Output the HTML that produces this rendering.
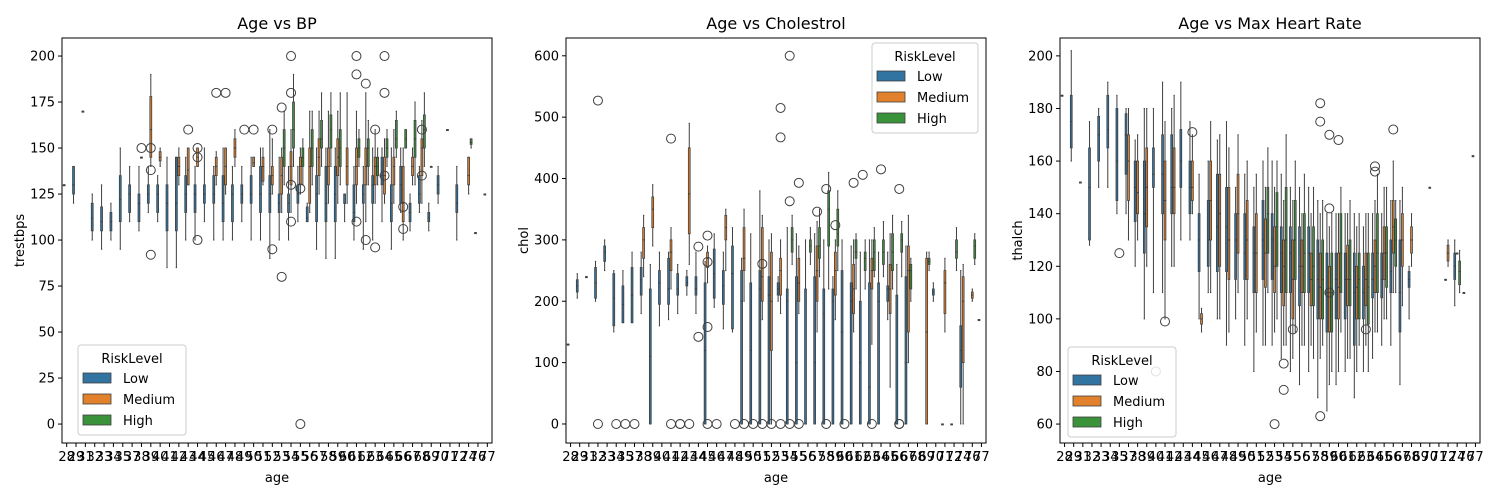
<!DOCTYPE html>
<html><head><meta charset="utf-8"><style>
body{margin:0;background:#fff;width:1500px;height:500px;overflow:hidden;font-family:"DejaVu Sans","Liberation Sans",sans-serif}
svg text{font-family:"DejaVu Sans","Liberation Sans",sans-serif}
</style></head><body>
<svg id="fig" width="1500" height="500" xmlns="http://www.w3.org/2000/svg"></svg>
<script>
const ages=[28,29,31,32,33,34,35,37,38,39,40,41,42,43,44,45,46,47,48,49,50,51,52,53,54,55,56,57,58,59,60,61,62,63,64,65,66,67,68,69,70,71,72,74,76,77];
const hueNames=["Low","Medium","High"];
const hueColors=["#3274a1","#e1812c","#3a923a"];
const N=null;
const bpLow=[[130,130,130,130,130],[120,125,130,140,140],[170,170,170,170,170],[100,105,112,120,125],[95,105,110,118,130],[100,105,110,115,120],[95,110,122,135,150],[110,115,125,130,140],[105,110,120,125,140],[115,120,125,130,140],[110,115,125,130,135],[85,105,120,130,145],[85,105,120,145,145],[100,115,125,135,145],[100,115,125,130,140],[110,120,125,130,150],[100,120,125,135,140],[100,110,120,135,150],[100,110,125,130,140],[110,120,125,130,140],[100,120,125,135,145],[100,115,125,140,150],[90,115,125,135,160],[100,115,120,125,145],[100,115,120,125,140],[110,120,125,130,140],[110,110,112,118,120],[95,110,125,135,150],[90,110,120,140,150],[90,110,125,140,150],[110,120,120,125,125],[100,110,115,130,140],[95,120,125,130,140],[100,120,130,135,150],[110,130,135,145,150],[95,110,120,130,150],[115,120,130,140,150],[105,110,115,120,125],[115,120,125,135,140],[105,110,112,115,120],[120,125,130,135,140],[160,160,160,160,160],[100,115,120,130,140],N,[104,104,104,104,104],[125,125,125,125,125]];
const bpMed=[N,N,N,N,N,N,N,N,[145,145,145,145,145],[140,145,160,178,190],[140,143,145,148,150],N,[130,135,140,145,150],[130,130,138,150,150],[140,140,145,150,150],N,[130,135,140,145,148],[125,130,140,150,150],[140,145,150,155,160],N,[140,140,142,145,145],[130,132,140,145,150],[125,130,135,140,155],[115,125,135,145,150],[115,130,140,148,160],[125,130,140,145,150],[115,120,140,150,170],[125,135,145,155,170],[120,130,140,150,170],[120,135,145,155,170],[120,130,140,150,180],[120,130,140,150,170],[110,130,140,150,180],[120,130,140,145,160],[120,125,135,145,155],[120,130,140,145,160],[100,110,120,140,150],[130,135,140,145,150],[120,135,150,155,165],[140,140,140,140,140],N,N,N,[125,130,135,145,145],N,N];
const bpHigh=[N,N,N,N,N,N,N,N,N,N,N,N,N,N,N,N,N,N,N,N,N,N,N,[130,140,150,160,170],[140,150,160,175,190],[130,140,145,150,155],[130,140,150,160,170],[140,150,155,165,180],[140,150,160,168,180],[130,140,150,160,180],N,[140,145,150,155,160],[130,140,150,155,165],[130,135,140,145,150],[140,145,150,155,160],[145,150,155,165,170],[150,150,155,160,160],[130,145,155,165,175],[140,150,160,168,180],N,N,N,N,[150,152,153,155,155],N,N];
const bpOutAge=[38,39,39,39,43,44,44,44,46,47,49,50,52,52,53,53,54,54,54,54,55,55,61,61,61,62,62,63,63,64,64,64,66,66,68,68];
const bpOutVal=[150,92,138,150,160,100,145,150,180,180,160,160,160,95,172,80,180,130,110,200,0,128,110,200,190,185,100,96,160,200,180,135,106,118,160,135];
const chLow=[[130,130,130,130,130],[205,215,225,235,245],[240,240,240,240,240],[200,205,230,255,265],[250,265,280,290,300],[150,160,205,245,250],[165,165,195,225,250],[165,165,210,255,280],[180,210,235,255,280],[0,0,110,220,260],[160,195,230,250,280],[170,195,220,270,280],[180,210,220,245,260],[210,225,230,240,250],[180,210,220,240,280],[0,0,120,230,265],[190,205,245,285,310],[155,195,225,250,280],[150,155,245,290,320],[0,0,200,250,270],[0,0,120,230,310],[0,0,220,250,380],[0,0,210,240,300],[200,210,220,230,240],[0,0,200,220,320],[0,0,100,240,310],[0,0,0,220,300],[0,0,100,240,310],[0,0,180,220,300],[0,0,200,220,240],[0,0,150,250,300],[0,0,200,230,290],[0,0,100,200,280],[0,0,60,230,300],[0,0,200,230,280],[170,200,220,225,280],[0,0,0,210,260],[0,0,100,240,290],N,N,[200,210,215,220,230],[0,0,0,0,0],[0,0,0,0,0],[0,60,120,160,250],N,[170,170,170,170,170]];
const chMed=[N,N,N,N,N,N,N,N,[240,270,300,320,340],[290,320,350,370,390],N,[220,250,280,300,320],N,[260,310,375,450,490],N,[230,255,270,280,290],N,[250,300,320,340,350],N,[200,250,270,320,350],N,[170,200,240,320,340],[0,120,200,280,310],[180,210,250,270,300],N,[180,200,230,270,290],N,[150,200,250,290,330],N,[170,210,250,280,300],N,[150,180,220,260,300],N,[130,220,250,270,300],N,[60,180,220,260,310],N,[100,150,250,290,340],N,[0,0,150,270,280],N,[150,180,230,250,270],N,[0,100,200,240,260],[200,205,210,215,220],N];
const chHigh=[N,N,N,N,N,N,N,N,N,N,N,N,N,N,N,N,N,N,N,N,N,N,N,N,[260,280,300,320,340],N,[260,280,290,300,320],[240,270,290,320,350],[220,290,350,380,410],[250,290,310,350,380],N,[220,270,280,300,310],[220,250,270,280,300],[240,250,280,300,320],[240,260,280,300,330],[220,250,280,310,340],[240,280,300,310,330],[200,220,250,260,270],N,[250,260,265,270,280],N,N,[250,270,280,300,320],N,[260,270,290,300,310],N];
const chOutAge=[32,34,35,37,41,42,42,43,45,46,48,49,50,51,52,53,54,55,58,60,63,66,66,32,41,44,45,45,45,44,51,54,53,53,55,54,58,57,59,61,62,64,66];
const chOutVal=[0,0,0,0,0,0,0,0,0,0,0,0,0,0,0,0,0,0,0,0,0,0,0,527,465,289,307,264,158,142,261,600,515,467,393,363,383,346,324,393,406,415,383];
const hrLow=[[185,185,185,185,185],[160,165,175,185,202],[152,152,152,152,152],[128,130,150,165,175],[150,160,170,177,180],[150,165,172,185,190],[140,145,160,180,185],[140,155,170,178,180],[120,137,150,160,168],[100,125,140,160,180],[110,150,155,165,180],[110,140,155,170,190],[120,140,150,170,180],[130,150,160,172,190],[130,140,150,160,175],[100,118,130,140,155],[110,120,130,145,160],[100,118,135,155,168],[90,118,135,150,175],[100,115,130,140,150],[90,115,125,140,155],[80,110,125,135,150],[90,115,130,145,160],[90,115,130,140,160],[85,110,125,135,155],[80,110,125,135,150],[75,105,120,135,150],[80,110,125,135,150],[70,100,115,130,145],[65,95,110,125,140],[75,100,115,125,140],[80,100,115,125,140],[70,90,110,125,140],[80,100,110,120,135],[85,108,115,125,140],[90,108,115,125,140],[90,110,118,130,145],[75,95,110,130,145],[100,112,115,118,120],N,N,N,[115,115,115,115,115],[105,115,120,125,130],[110,110,110,110,110],[162,162,162,162,162]];
const hrMed=[N,N,N,N,N,N,N,[130,145,160,170,180],[130,140,148,160,170],[120,135,150,165,180],N,[100,130,145,160,175],[120,140,150,165,185],N,[140,145,150,160,170],[95,98,100,102,104],[110,130,145,160,175],[100,120,140,155,170],[95,115,130,150,165],[110,125,140,155,170],[100,115,130,145,160],[95,110,125,140,155],[90,112,125,138,150],[95,110,120,135,150],[90,105,120,130,145],[85,100,115,130,145],[90,110,120,130,140],[90,105,115,125,140],[85,100,112,125,140],[75,95,110,120,135],[80,100,112,125,140],[85,105,115,128,140],[80,100,112,120,135],[90,105,115,125,140],[95,110,120,130,145],[100,115,125,135,150],[110,125,135,145,160],[105,120,130,140,150],[120,125,130,135,140],N,[150,150,150,150,150],N,[120,122,125,128,130],[125,125,125,125,125],N,N];
const hrHigh=[N,N,N,N,N,N,N,N,N,N,N,N,N,N,N,N,N,N,N,N,N,N,[110,125,140,150,165],[100,120,135,148,160],[90,110,130,150,170],[95,115,130,145,160],[90,110,125,140,155],[85,105,120,135,150],[90,100,115,130,145],[80,95,110,125,140],[95,110,125,140,150],[85,105,115,130,145],[90,100,115,125,140],[80,98,112,125,140],[95,110,125,140,155],[100,112,125,135,150],[110,120,130,138,145],N,N,N,N,N,N,[110,113,118,122,126],N,N];
const hrOutAge=[35,41,40,44,53,54,54,55,58,58,58,59,60,59,59,63,64,64,66];
const hrOutVal=[125,99,80,171,60,83,73,96,63,175,182,170,168,142,110,96,156,158,172];

const svg=document.getElementById('fig');
const NS='http://www.w3.org/2000/svg';
function mk(tag,attrs,parent,text){const e=document.createElementNS(NS,tag);for(const k in attrs)e.setAttribute(k,attrs[k]);if(text!==undefined)e.textContent=text;(parent||svg).appendChild(e);return e;}

function panel(cfg){
  const g=mk('g',{});
  
  
  const L=cfg.left,R=cfg.right,T=38,B=443;
  const step=(R-L)/ages.length;
  const xC=i=>L+step*(i+0.5);
  const y=v=>B-(v-cfg.ymin)/(cfg.ymax-cfg.ymin)*(B-T);
  const bw=0.8*step/3;
  const series=[cfg.low,cfg.med,cfg.high];
  series.forEach((arr,h)=>{
    arr.forEach((s,i)=>{
      if(!s)return;
      const cx=xC(i)+(h-1)*bw;
      const bx=mk('g',{},g);
      
      
      mk('line',{x1:cx,x2:cx,y1:y(s[0]),y2:y(s[1]),stroke:'#3f3f3f','stroke-width':1},bx);
      mk('line',{x1:cx,x2:cx,y1:y(s[3]),y2:y(s[4]),stroke:'#3f3f3f','stroke-width':1},bx);
      mk('line',{x1:cx-bw/4,x2:cx+bw/4,y1:y(s[0]),y2:y(s[0]),stroke:'#3f3f3f','stroke-width':1},bx);
      mk('line',{x1:cx-bw/4,x2:cx+bw/4,y1:y(s[4]),y2:y(s[4]),stroke:'#3f3f3f','stroke-width':1},bx);
      mk('rect',{x:cx-bw/2+0.3,y:y(s[3]),width:Math.max(bw-0.6,1),height:Math.max(y(s[1])-y(s[3]),1),fill:hueColors[h],stroke:'#3f3f3f','stroke-width':0.8},bx);
      mk('line',{x1:cx-bw/2,x2:cx+bw/2,y1:y(s[2]),y2:y(s[2]),stroke:'#3f3f3f','stroke-width':1},bx);
    });
  });
  cfg.outAge.forEach((a,k)=>{
    const i=ages.indexOf(a);
    const c=mk('circle',{cx:xC(i),cy:y(cfg.outVal[k]),r:4.5,fill:'none',stroke:'#3f3f3f','stroke-width':1},g);
    
    
  });
  mk('rect',{x:L,y:T,width:R-L,height:B-T,fill:'none',stroke:'#000','stroke-width':1},g);
  const xt=mk('g',{},g);
  
  
  ages.forEach((a,i)=>{
    mk('line',{x1:xC(i),x2:xC(i),y1:B,y2:B+4,stroke:'#000'},xt);
    mk('text',{x:xC(i),y:B+18,'font-size':13,'text-anchor':'middle'},xt,a);
  });
  const yt=mk('g',{},g);
  
  
  cfg.ticks.forEach(t=>{
    mk('line',{x1:L-4,x2:L,y1:y(t),y2:y(t),stroke:'#000'},yt);
    mk('text',{x:L-7,y:y(t)+4.5,'font-size':13,'text-anchor':'end'},yt,t);
  });
  const ti=mk('text',{x:(L+R)/2,y:29,'font-size':16,'text-anchor':'middle'},g,cfg.title);
  
  
  const xl=mk('text',{x:(L+R)/2,y:482,'font-size':13,'text-anchor':'middle'},g,'age');
  
  
  const yx=cfg.left-38;
  const yl=mk('text',{x:yx,y:(T+B)/2,'font-size':13,'text-anchor':'middle',transform:`rotate(-90 ${yx} ${(T+B)/2})`},g,cfg.ylabel);
  
  
  const lg=mk('g',{},g);
  
  
  const lx=cfg.lx,ly=cfg.ly;
  mk('rect',{x:lx,y:ly,width:cfg.lw,height:90,rx:3,fill:'#fff','fill-opacity':0.85,stroke:'#ccc'},lg);
  mk('text',{x:lx+cfg.lw/2,y:ly+18,'font-size':13,'text-anchor':'middle'},lg,'RiskLevel');
  hueNames.forEach((n,h)=>{
    const e=mk('g',{},lg);
    
    
    mk('rect',{x:lx+5,y:ly+28+h*21,width:28,height:10,fill:hueColors[h],stroke:'#3f3f3f','stroke-width':0.8},e);
    mk('text',{x:lx+45,y:ly+38+h*21,'font-size':13},e,n);
  });
}
panel({name:'age-vs-bp-chart',left:62,right:492,ymin:-10.3,ymax:209.8,ticks:[0,25,50,75,100,125,150,175,200],title:'Age vs BP',ylabel:'trestbps',low:bpLow,med:bpMed,high:bpHigh,outAge:bpOutAge,outVal:bpOutVal,lx:78,ly:345,lw:108});
panel({name:'age-vs-cholesterol-chart',left:566,right:986,ymin:-31,ymax:629,ticks:[0,100,200,300,400,500,600],title:'Age vs Cholestrol',ylabel:'chol',low:chLow,med:chMed,high:chHigh,outAge:chOutAge,outVal:chOutVal,lx:872,ly:43,lw:106});
panel({name:'age-vs-max-heart-rate-chart',left:1060,right:1480,ymin:52.8,ymax:206.8,ticks:[60,80,100,120,140,160,180,200],title:'Age vs Max Heart Rate',ylabel:'thalch',low:hrLow,med:hrMed,high:hrHigh,outAge:hrOutAge,outVal:hrOutVal,lx:1068,ly:347,lw:108});
</script>
</body></html>
